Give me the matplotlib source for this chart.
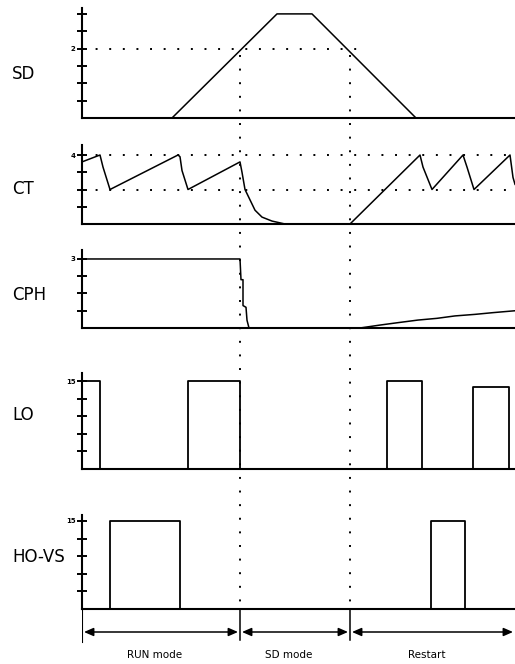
import numpy as np
import matplotlib
matplotlib.use("Agg")
import matplotlib.pyplot as plt

# ---- data (time in arbitrary units, 0 .. 43.3) ----
t_end_plot = 43.3
mode_edges = [0.0, 15.8, 26.8, 43.3]
mode_names = ["RUN mode", "SD mode", "Restart"]

# SD : speed demand
sd_t = [0.0, 9.0, 19.5, 23.0, 33.4, 43.3]
sd_v = [0.0, 0.0, 3.0, 3.0, 0.0, 0.0]

# CT : temperature
ct_t = [0.0, 1.8, 2.1, 2.8, 9.6, 9.8, 10.0, 10.6, 15.8, 16.0, 16.3, 16.8, 17.3, 18.0, 19.0, 20.3,
        26.8, 33.8, 34.1, 35.0, 38.1, 38.5, 39.2, 42.8, 43.1, 43.3]
ct_v = [3.6, 4.0, 3.3, 2.0, 4.0, 3.9, 3.1, 2.0, 3.6, 3.0, 2.0, 1.4, 0.8, 0.4, 0.17, 0.0,
        0.0, 4.0, 3.3, 2.0, 4.0, 3.3, 2.0, 4.0, 2.7, 2.3]

# CPH
cph_t = [0.0, 15.8, 15.9, 16.1, 16.1, 16.4, 16.5, 16.7, 27.8, 29.8, 31.6, 33.6, 35.5, 37.3, 39.3, 41.1, 43.3]
cph_v = [4.0, 4.0, 2.8, 2.8, 1.3, 1.2, 0.45, 0.0, 0.0, 0.17, 0.31, 0.46, 0.56, 0.70, 0.79, 0.89, 1.0]

# LO pulses
lo_start = [0.0, 10.6, 30.5, 39.1]
lo_stop = [1.8, 15.8, 34.0, 42.7]
lo_level = [15, 15, 15, 14]

# HO-VS pulses
ho_start = [2.8, 34.9]
ho_stop = [9.8, 38.3]
ho_level = [15, 15]


def pulses(starts, stops, levels):
    t = [0.0]
    v = [0.0]
    for s, e, l in zip(starts, stops, levels):
        t += [s, s, e, e]
        v += [0, l, l, 0]
    t.append(t_end_plot)
    v.append(0)
    return t, v


W, H = 515, 664
fig = plt.figure(figsize=(W / 100, H / 100), dpi=100)
x0 = 82


def box(top, bottom):
    return [x0 / W, 1 - bottom / H, (W - x0) / W, (bottom - top) / H]


def style(ax, ylim, ticks, lab_val, lab_txt):
    ax.set_xlim(0, t_end_plot)
    ax.set_ylim(*ylim)
    for s in ["top", "right"]:
        ax.spines[s].set_visible(False)
    ax.spines["left"].set_linewidth(1.5)
    ax.spines["bottom"].set_linewidth(1.5)
    ax.set_xticks([])
    ax.set_yticks(ticks)
    ax.set_yticklabels([lab_txt if abs(tk - lab_val) < 1e-6 else "" for tk in ticks])
    ax.tick_params(axis="y", direction="inout", length=7.5, width=1.4, pad=1,
                   labelsize=5, )
    for lb in ax.get_yticklabels():
        lb.set_fontweight("bold")
    ax.patch.set_alpha(0)


dot = (0, (1, 6))
lw = 1.1

# SD
ax1 = fig.add_axes(box(8, 118))
ax1.plot(sd_t, sd_v, color="black", lw=lw)
ax1.plot([0, 27.9], [2, 2], color="black", lw=1.4, ls=dot)
style(ax1, (0, 3.17), [0.5, 1.0, 1.5, 2.0, 2.5, 3.0], 2.0, "2")

# CT
ax2 = fig.add_axes(box(145, 224))
ax2.plot(ct_t, ct_v, color="black", lw=lw)
ax2.axhline(4, color="black", lw=1.4, ls=dot)
ax2.axhline(2, color="black", lw=1.4, ls=dot)
style(ax2, (0, 4.58), [1, 2, 3, 4], 4, "4")

# CPH
ax3 = fig.add_axes(box(250, 328))
ax3.plot(cph_t, cph_v, color="black", lw=lw)
style(ax3, (0, 4.52), [1, 2, 3, 4], 4, "3")

# LO
ax4 = fig.add_axes(box(373, 469))
t, v = pulses(lo_start, lo_stop, lo_level)
ax4.plot(t, v, color="black", lw=1.3)
style(ax4, (0, 16.4), [3, 6, 9, 12, 15], 15, "15")

# HO-VS
ax5 = fig.add_axes(box(515, 609))
t, v = pulses(ho_start, ho_stop, ho_level)
ax5.plot(t, v, color="black", lw=1.3)
style(ax5, (0, 16.0), [3, 6, 9, 12, 15], 15, "15")

# row labels
for name, yc in [("SD", 74), ("CT", 189), ("CPH", 295), ("LO", 415), ("HO-VS", 557)]:
    fig.text(12 / W, 1 - yc / H, name, ha="left", va="center", fontsize=12)

# overlay for the mode markers (same time axis, y in pixel units)
ov = fig.add_axes([x0 / W, 0, (W - x0) / W, 1])
ov.set_xlim(0, t_end_plot)
ov.set_ylim(H, 0)
ov.axis("off")
ov.patch.set_alpha(0)

for te in mode_edges[1:3]:
    ov.plot([te, te], [55, 609], color="black", lw=1.4, ls=dot)
    ov.plot([te, te], [609, 640], color="black", lw=1.1)
ov.plot([0, 0], [609, 642], color="black", lw=1.5)

for i in range(3):
    a, b = mode_edges[i], mode_edges[i + 1]
    ov.annotate("", xy=(b - 0.2, 632), xytext=(a + 0.2, 632),
                arrowprops=dict(arrowstyle="<|-|>,head_length=0.8,head_width=0.35",
                                color="black", lw=1.1, mutation_scale=7,
                                shrinkA=0, shrinkB=0))
    ov.text((a + b) / 2 - 0.6, 655, mode_names[i], ha="center", va="center", fontsize=7.5)

plt.savefig("out.png", dpi=100)
